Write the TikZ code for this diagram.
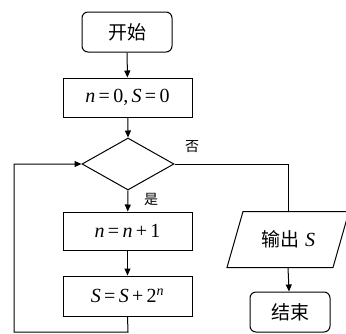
\documentclass[tikz,border=0pt]{standalone}
\usepackage{fontspec}
\setmainfont{Liberation Serif}
\newfontfamily\cjk{Noto Sans CJK SC}
\usetikzlibrary{shapes.geometric,arrows.meta}
\begin{document}
\begin{tikzpicture}[x=1pt,y=-1pt,
  line width=1pt,
  every node/.style={inner sep=0pt},
  txt/.style={font=\fontsize{20}{22}\selectfont},
  cjktxt/.style={font=\cjk\fontsize{19}{22}\selectfont},
  lbl/.style={font=\cjk\fontsize{14}{16}\selectfont},
  termbox/.style={draw,rounded corners=6pt,cjktxt},
  procbox/.style={draw,minimum width=129pt,txt},
  arr/.style={-{Triangle[length=7pt,width=6pt]}}
]
\useasboundingbox (0,0) rectangle (346,333);
\node[termbox,minimum width=90pt,minimum height=40pt] (start) at (127,32) {开始};
\node[procbox,minimum height=39pt] (init) at (127.5,97.5) {\textit{n}\,=\,0,\,\textit{S}\,=\,0};
\node[draw,diamond,minimum width=92pt,minimum height=52pt,aspect=1.77] (cond) at (128,164) {};
\node[procbox,minimum height=38pt] (inc) at (127.5,231) {\textit{n}\,=\,\textit{n}\,+\,1};
\node[procbox,minimum height=40pt] (sum) at (127.5,296) {\textit{S}\,=\,\textit{S}\,+\,2\textsuperscript{\textit{n}}};
\node[minimum width=106pt,minimum height=56pt,cjktxt] (out) at (288,239.5) {输出\hspace{6pt}{\fontsize{20}{22}\selectfont\rmfamily\textit{S}}};
\draw (243,211.5) -- (349,211.5) -- (333,267.5) -- (227,267.5) -- cycle;
\node[termbox,minimum width=80pt,minimum height=40pt] (stop) at (290,312) {结束};
\coordinate (c1) at (288,164);
\coordinate (c2) at (128,332);
\coordinate (c3) at (14,332);
\coordinate (c4) at (14,164);
\draw[arr] (start) -- (init);
\draw[arr] (init) -- (cond.north);
\draw[arr] (cond.south) -- (inc);
\draw[arr] (inc) -- (sum);
\draw (cond.east) -- (c1) -- (out.north);
\draw[arr] (out.south) -- (stop);
\draw[arr] (sum.south) -- (c2) -- (c3) -- (c4) -- (cond.west);
\node[lbl] (no) at (192,147) {否};
\node[lbl] (yes) at (151,199) {是};
\end{tikzpicture}
\end{document}
